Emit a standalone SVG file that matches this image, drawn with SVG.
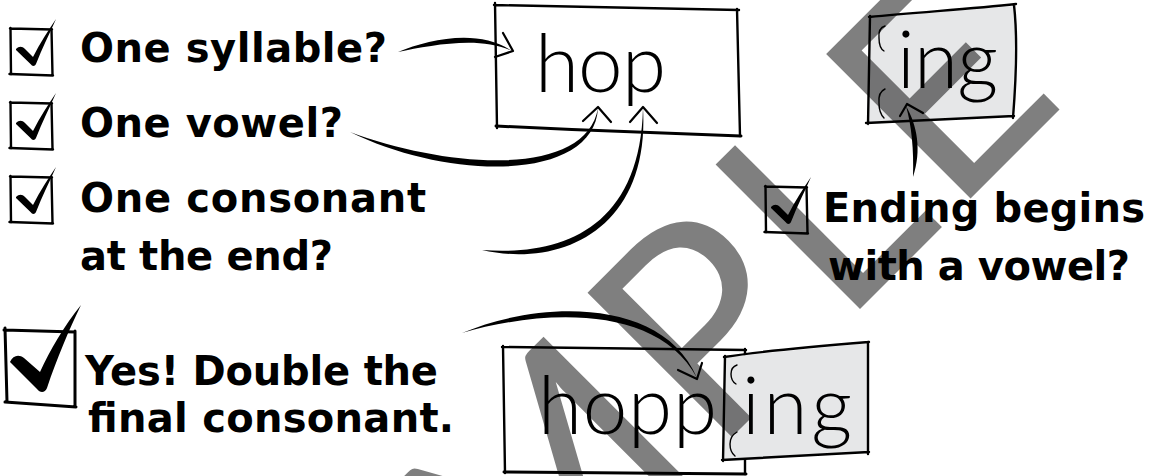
<svg xmlns="http://www.w3.org/2000/svg" width="1153" height="476" viewBox="0 0 1153 476">
<defs>
<style>
.q{font-family:"DejaVu Sans","Liberation Sans",sans-serif;font-weight:bold;font-size:40px;fill:#000}
.w{font-family:Lato,"Liberation Sans",sans-serif;font-weight:300;font-size:80px;fill:#000}
.sk{fill:none;stroke:#000;stroke-width:2.4;stroke-linecap:round;stroke-linejoin:round}
.skb{fill:none;stroke:#000;stroke-width:3;stroke-linecap:round;stroke-linejoin:round}
.tile{fill:#e6e7e8;stroke:none}
.br{fill:none;stroke:#000;stroke-width:1.4;stroke-linecap:round}
.ink{fill:#000;stroke:none}
.head{fill:none;stroke:#000;stroke-width:2.2;stroke-linecap:round;stroke-linejoin:round}
.wm{font-family:Lato,"Liberation Sans",sans-serif;font-weight:400;font-size:285px;letter-spacing:10px;fill:#000;fill-opacity:.5}
</style>
<!-- small ticked checkbox, origin at the box's top-left corner -->
<g id="tick">
<path class="sk" d="M0,0.5 L42,1.5 M41.5,1 L42.5,47 M0.5,0 L1,46.5 M-0.5,46 L43,47.5"/>
<path class="ink" d="M6,21 C9,18 12,18 15,21 L23,29 C30,15 38,3 46,-9 C40,5 32,20 26,36 C25,38.5 22,38.5 21,36.5 L6,22 Z"/>
</g>
</defs>
<rect width="1153" height="476" fill="#fff"/>

<!-- question: one syllable -->
<g id="q-syllable">
<use href="#tick" x="10" y="28"/>
<text class="q" x="80" y="62" textLength="307">One syllable?</text>
</g>

<!-- question: one vowel -->
<g id="q-vowel">
<use href="#tick" x="10" y="102"/>
<text class="q" x="80" y="137" textLength="263">One vowel?</text>
</g>

<!-- question: one consonant at the end -->
<g id="q-consonant">
<use href="#tick" x="10" y="176"/>
<text class="q" x="80" y="212" textLength="346">One consonant</text>
<text class="q" x="80" y="270" textLength="253">at the end?</text>
</g>

<!-- question: ending begins with a vowel -->
<g id="q-ending">
<use href="#tick" x="765" y="186"/>
<text class="q" x="823" y="222" textLength="322">Ending begins</text>
<text class="q" x="828" y="280" textLength="302">with a vowel?</text>
</g>

<!-- conclusion with the large tick -->
<g id="result">
<path class="skb" d="M5,328 L7,402 M4,330 L75,332 M75,331 L75,406 M5,402 L76,407"/>
<path class="ink" d="M10,362 C13,355 19,354 24,358 L40,372 C50,350 64,326 81,305 C69,330 57,358 47,388 C45,393 40,393 37,389 Z"/>
<text class="q" x="85" y="385" textLength="353">Yes! Double the</text>
<text class="q" x="88" y="432" textLength="366">final consonant.</text>
</g>

<!-- base word -->
<g id="word-hop">
<path class="sk" d="M494,5 L739,10 M737,9 L740,136 M495,3 L497,128"/>
<path class="skb" d="M496,126 C580,130 680,134 741,136"/>
<text class="w" x="535" y="92" textLength="131">hop</text>
</g>

<!-- suffix tile -->
<g id="suffix-ing">
<polygon class="tile" points="870,17 1015,6 1013,117 868,123"/>
<path class="sk" d="M869,17 C920,12 970,9 1016,4 M1014,5 C1018,40 1016,80 1013,118 M866,123 L1014,116 M870,16 L868,124"/>
<path class="br" d="M885,26 Q878,28 879,38 Q879,48 884,51 M885,89 Q878,92 879,103 Q879,113 884,118"/>
<text class="w" x="897" y="88" textLength="101">ing</text>
</g>

<!-- doubled word with the suffix attached -->
<g id="word-hopping">
<path class="sk" d="M502,347 L746,350 M503,346 L505,473 M745,349 L745,474"/>
<path class="skb" d="M504,472 L746,474"/>
<text class="w" x="538" y="434" textLength="179">hopp</text>
<polygon class="tile" points="725,357 868,343 868,453 723,460"/>
<path class="sk" d="M724,357 C770,350 820,346 869,342 M868,342 L868,454 M722,460 L869,452 M725,356 L723,461"/>
<path class="br" d="M737,365 Q731,367 731,374 Q731,381 736,384 M737,432 Q730,436 730,444 Q730,452 735,456"/>
<text class="w" x="742" y="434" textLength="110">ing</text>
</g>

<!-- connectors: tapered brush strokes with open heads -->
<g id="connectors">
<path class="ink" d="M398,52 C430,38.5 480,28.5 512,51 C480,35.5 430,45.5 398,52 Z"/>
<path class="head" d="M503,33 L513,51 L495,57"/>
<path class="ink" d="M350,132 C450,169 586,178 598,108 C594,182 450,181 350,132 Z"/>
<path class="head" d="M583,121 L598,107 L611,122"/>
<path class="ink" d="M482,250 C560,256 640,230 643,108 C650,230 560,268 482,250 Z"/>
<path class="head" d="M630,122 L643,107 L657,123"/>
<path class="ink" d="M913,177 C914,150 911.5,125 906,106 C917,125 922,150 913,177 Z"/>
<path class="head" d="M900,116 L907,104 L923,113"/>
<path class="ink" d="M462,333 C540,300 663,297 697,378 C657,303 540,310 462,333 Z"/>
<path class="head" d="M678,370 L697,379 L702,363"/>
</g>

<!-- watermark -->
<text class="wm" transform="translate(262,907) rotate(-45)">SAMPLE</text>
</svg>
